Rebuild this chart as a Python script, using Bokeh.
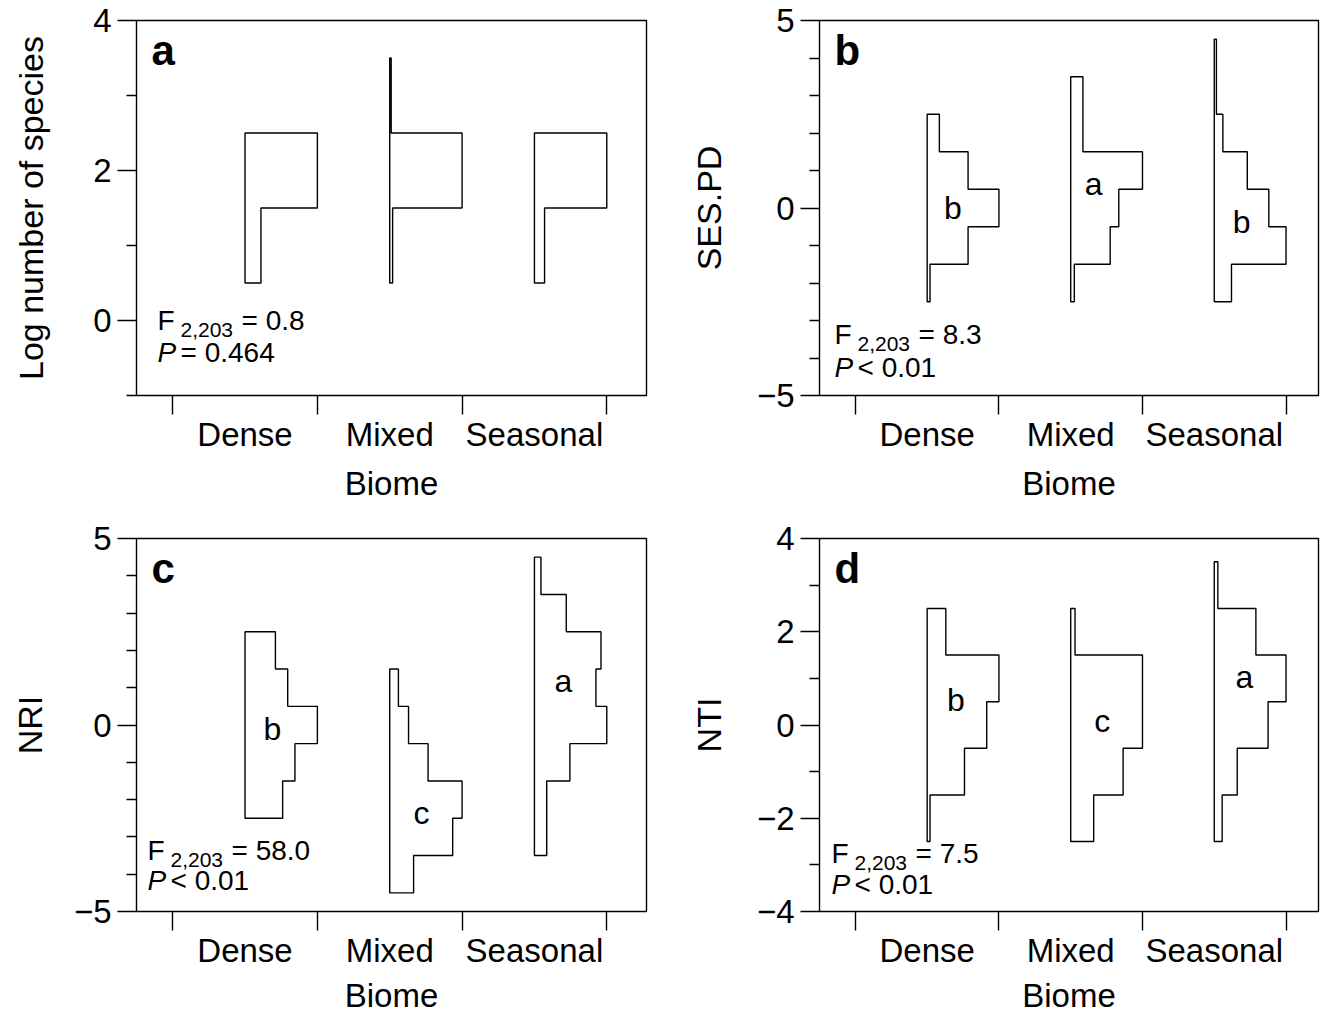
from bokeh.plotting import figure
from bokeh.models import Range1d, FixedTicker, Label
from bokeh.layouts import column, row
from bokeh.core.properties import value
from bokeh.embed import file_html
from bokeh.resources import INLINE

FONT = "Liberation Sans"

# ---------------- data ----------------
biomes = ["Dense", "Mixed", "Seasonal"]
biome_pos = [1, 2, 3]
biome_bounds = [0.5, 1.5, 2.5, 3.5]
bin_width = 1.0

# panel a : Log number of species (relative bar widths per bin)
a_bin_low = [0.5, 1.5, 2.5]
a_dense = [0.22, 1.00, 0.00]
a_mixed = [0.04, 1.00, 0.02]
a_seasonal = [0.14, 1.00, 0.00]

# panel b : SES.PD
b_bin_low = [-2.5, -1.5, -0.5, 0.5, 1.5, 2.5, 3.5]
b_dense = [0.04, 0.57, 1.00, 0.57, 0.17, 0.00, 0.00]
b_mixed = [0.05, 0.55, 0.67, 1.00, 0.17, 0.17, 0.00]
b_seasonal = [0.24, 1.00, 0.76, 0.46, 0.12, 0.03, 0.03]

# panel c : NRI
c_bin_low = [-4.5, -3.5, -2.5, -1.5, -0.5, 0.5, 1.5, 2.5, 3.5]
c_dense = [0.00, 0.00, 0.52, 0.69, 1.00, 0.59, 0.42, 0.00, 0.00]
c_mixed = [0.33, 0.87, 1.00, 0.53, 0.26, 0.12, 0.00, 0.00, 0.00]
c_seasonal = [0.00, 0.17, 0.17, 0.49, 1.00, 0.85, 0.92, 0.44, 0.09]

# panel d : NTI
d_bin_low = [-2.5, -1.5, -0.5, 0.5, 1.5, 2.5]
d_dense = [0.04, 0.52, 0.83, 1.00, 0.26, 0.00]
d_mixed = [0.32, 0.73, 1.00, 1.00, 0.06, 0.00]
d_seasonal = [0.11, 0.32, 0.75, 1.00, 0.58, 0.05]

# statistics text
a_stat = ["2,203", "= 0.8", "= 0.464"]
b_stat = ["2,203", "= 8.3", "< 0.01"]
c_stat = ["2,203", "= 58.0", "< 0.01"]
d_stat = ["2,203", "= 7.5", "< 0.01"]

# group letters and their positions
b_groups = ["b", "a", "b"]
b_group_x = [1.18, 2.16, 3.19]
b_group_y = [0.00, 0.65, -0.37]
c_groups = ["b", "c", "a"]
c_group_x = [1.19, 2.22, 3.20]
c_group_y = [-0.10, -2.35, 1.18]
d_groups = ["b", "c", "a"]
d_group_x = [1.20, 2.22, 3.21]
d_group_y = [0.53, 0.09, 1.03]

# y axes
a_yrange = (-1, 4); a_major = [0, 2, 4]; a_minor = [-1, 1, 3]; a_labels = ["0", "2", "4"]
b_yrange = (-5, 5); b_major = [-5, 0, 5]; b_minor = [-4, -3, -2, -1, 1, 2, 3, 4]; b_labels = ["\u22125", "0", "5"]
c_yrange = (-5, 5); c_major = [-5, 0, 5]; c_minor = [-4, -3, -2, -1, 1, 2, 3, 4]; c_labels = ["\u22125", "0", "5"]
d_yrange = (-4, 4); d_major = [-4, -2, 0, 2, 4]; d_minor = [-3, -1, 1, 3]; d_labels = ["\u22124", "\u22122", "0", "2", "4"]


def outline(center, lows, widths, half=0.5):
    idx = [i for i, w in enumerate(widths) if w > 0]
    i0, i1 = idx[0], idx[-1]
    xs = [center]
    ys = [lows[i0]]
    for i in range(i0, i1 + 1):
        x = center + half * widths[i]
        xs += [x, x]
        ys += [lows[i], lows[i] + bin_width]
    xs.append(center)
    ys.append(lows[i1] + bin_width)
    return xs, ys


def lab(p, x, y, text, dx, dy, size, style="normal", align="left"):
    p.add_layout(Label(x=x, y=y, x_offset=dx, y_offset=dy, text=text,
                       text_font=FONT, text_font_size=size, text_font_style=style,
                       text_baseline="alphabetic", text_align=align, text_color="black"))


def make_panel(width, height, bl, br, bt, bb, xmax, yrange, major, minor, ylabels,
               ylabel, ylab_standoff, xlab_standoff, lows, series, letter, stat, stat_pos,
               groups=None, gx=None, gy=None):
    p = figure(width=width, height=height, output_backend="svg", toolbar_location=None,
               x_range=Range1d(0.25, xmax), y_range=Range1d(*yrange),
               min_border_left=bl, min_border_right=br, min_border_top=bt,
               min_border_bottom=bb)
    p.background_fill_color = "white"
    p.border_fill_color = "white"
    p.outline_line_color = "black"
    p.outline_line_width = 1.4
    p.xgrid.visible = False
    p.ygrid.visible = False

    # x axis
    xa = p.xaxis[0]
    xa.ticker = FixedTicker(ticks=biome_pos, minor_ticks=biome_bounds)
    xa.major_label_overrides = {k: v for k, v in zip(biome_pos, biomes)}
    xa.major_tick_out = 0
    xa.major_tick_in = 0
    xa.minor_tick_out = 19
    xa.minor_tick_in = 0
    xa.minor_tick_line_color = "black"
    xa.minor_tick_line_width = 1.4
    xa.axis_line_color = None
    xa.major_label_standoff = 1
    xa.major_label_text_font = FONT
    xa.major_label_text_font_size = "33px"
    xa.major_label_text_color = "black"
    xa.axis_label = "Biome"
    xa.axis_label_text_font = FONT
    xa.axis_label_text_font_size = "33px"
    xa.axis_label_text_font_style = "normal"
    xa.axis_label_text_color = "black"
    xa.axis_label_standoff = xlab_standoff

    # y axis
    ya = p.yaxis[0]
    ya.ticker = FixedTicker(ticks=major, minor_ticks=minor)
    ya.major_label_overrides = {k: v for k, v in zip(major, ylabels)}
    ya.major_tick_out = 19
    ya.major_tick_in = 0
    ya.minor_tick_out = 10
    ya.minor_tick_in = 0
    ya.major_tick_line_color = "black"
    ya.minor_tick_line_color = "black"
    ya.major_tick_line_width = 1.4
    ya.minor_tick_line_width = 1.4
    ya.axis_line_color = None
    ya.major_label_standoff = 6
    ya.major_label_orientation = "horizontal"
    ya.major_label_text_font = FONT
    ya.major_label_text_font_size = "33px"
    ya.major_label_text_color = "black"
    ya.axis_label = ylabel
    ya.axis_label_text_font = FONT
    ya.axis_label_text_font_size = "34px"
    ya.axis_label_text_font_style = "normal"
    ya.axis_label_text_color = "black"
    ya.axis_label_standoff = ylab_standoff

    # histograms
    for c, w in zip(biome_pos, series):
        xs, ys = outline(c, lows, w)
        p.patch(xs, ys, fill_color="white", fill_alpha=0.0, line_color="black",
                line_width=1.4)

    # group letters
    if groups is not None:
        p.text(x=gx, y=gy, text=groups, text_font=value(FONT), text_font_size="32px",
               text_align="center", text_baseline="alphabetic", text_color="black")

    y0, y1 = yrange
    # panel letter
    lab(p, 0.25, y1, letter, 15, -30, "42px", style="bold")
    # statistics
    lx, fy, py = stat_pos
    lab(p, 0.25, y0, "F", lx, fy, "28px")
    lab(p, 0.25, y0, stat[0], lx + 23, fy - 9, "21px")
    lab(p, 0.25, y0, stat[1], lx + 84, fy, "28px")
    lab(p, 0.25, y0, "P", lx, py, "28px", style="italic")
    lab(p, 0.25, y0, stat[2], lx + 23, py, "28px")
    return p


PX = 144.7
LW, RW = 686, 634
TH, BH = 510, 506

pa = make_panel(LW, TH, 136, 40, 20, TH - 20 - 375, 0.25 + 510 / PX, a_yrange, a_major, a_minor,
                a_labels, "Log number of species", 40, 9, a_bin_low,
                [a_dense, a_mixed, a_seasonal], "a", a_stat, (21, 75, 43))
pb = make_panel(RW, TH, 129, 2, 20, TH - 20 - 375, 0.25 + 503 / PX, b_yrange, b_major, b_minor,
                b_labels, "SES.PD", 26, 9, b_bin_low,
                [b_dense, b_mixed, b_seasonal], "b", b_stat, (15, 61, 28),
                b_groups, b_group_x, b_group_y)
pc = make_panel(LW, BH, 136, 40, 28, BH - 28 - 374, 0.25 + 510 / PX, c_yrange, c_major, c_minor,
                c_labels, "NRI", 22, 5, c_bin_low,
                [c_dense, c_mixed, c_seasonal], "c", c_stat, (11, 61, 31),
                c_groups, c_group_x, c_group_y)
pd_ = make_panel(RW, BH, 129, 2, 28, BH - 28 - 374, 0.25 + 503 / PX, d_yrange, d_major, d_minor,
                 d_labels, "NTI", 26, 5, d_bin_low,
                 [d_dense, d_mixed, d_seasonal], "d", d_stat, (12, 58, 27),
                 d_groups, d_group_x, d_group_y)

layout = column(row(pa, pb), row(pc, pd_))
open("out.html", "w").write(file_html(layout, INLINE))
